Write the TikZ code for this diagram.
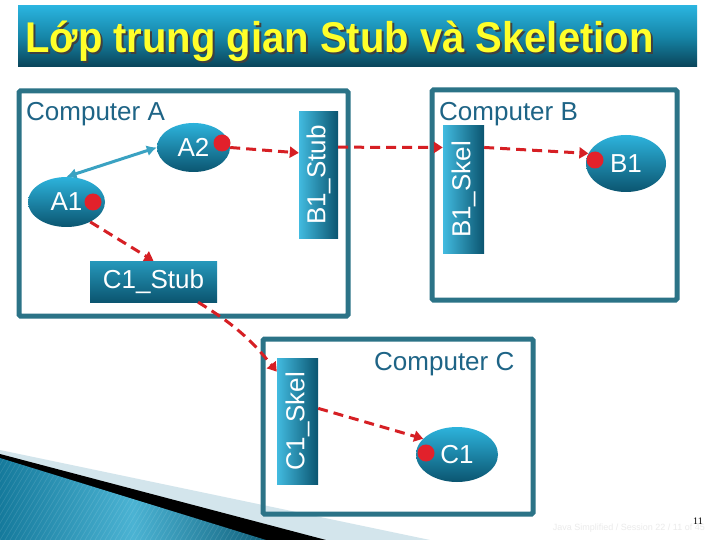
\documentclass[tikz,border=0pt]{standalone}
\usepackage{fontspec}
\setmainfont{Liberation Sans}
\newfontfamily\numfont{Liberation Serif}
\usetikzlibrary{arrows.meta,calc,shapes.geometric}
\definecolor{barTop}{HTML}{2AB4DF}
\definecolor{barMid}{HTML}{1686A8}
\definecolor{barBot}{HTML}{0A4459}
\definecolor{titleYel}{HTML}{FFFF2A}
\definecolor{boxC}{HTML}{2B7387}
\definecolor{labC}{HTML}{1E6486}
\definecolor{objTop}{HTML}{2DB3DC}
\definecolor{objBot}{HTML}{0B5570}
\definecolor{dotRed}{HTML}{E2212B}
\definecolor{arrRed}{HTML}{D61F24}
\definecolor{dblC}{HTML}{3AA2C2}
\definecolor{swDark}{HTML}{157A9C}
\definecolor{swLight}{HTML}{4BB3D3}
\definecolor{swPale}{HTML}{D3E5EC}
\tikzset{
  compbox/.style={draw=boxC, line width=5pt, rounded corners=1.5pt},
  complabel/.style={text=labC, font=\fontsize{26}{26}\selectfont, anchor=base west, inner sep=0},
  objell/.style={ellipse, inner sep=0, top color=objTop, bottom color=objBot, text=white,
    font=\fontsize{26}{26}\selectfont},
  stubbar/.style={rectangle, inner sep=0, left color=objTop!90!white, right color=objBot,
    text=white, font=\fontsize{26}{26}\selectfont},
  reddot/.style={circle, fill=dotRed, minimum size=17pt, inner sep=0},
  rpc/.style={draw=arrRed, line width=3pt, dash pattern=on 10pt off 6pt,
    -{Triangle[length=9pt,width=11pt]}},
  localcall/.style={draw=dblC, line width=3pt, {Latex[length=10pt,width=11pt]}-{Latex[length=10pt,width=11pt]}}
}
\begin{document}
\begin{tikzpicture}[x=1pt,y=-1pt]
\useasboundingbox (0,0) rectangle (720,540);
\fill[white] (0,0) rectangle (720,540);

% bottom-left swoosh
\fill[swPale] (0,450) -- (430,540) -- (0,540) -- cycle;
\fill[black] (0,454) -- (326,540) -- (0,540) -- cycle;
\shade[left color=swDark, right color=swDark!80!black, middle color=swLight]
  (0,458) -- (266,540) -- (0,540) -- cycle;
\begin{scope}
  \clip (0,458) -- (266,540) -- (0,540) -- cycle;
  \foreach \k in {0,5,...,330} {
    \draw[white, opacity=0.12, line width=0.6pt] (\k-60,540) -- (\k,440);
  }
\end{scope}

% title bar
\shade[top color=barTop, bottom color=barBot, middle color=barMid] (18,6) rectangle (697,67);
\node[anchor=base west, inner sep=0, text=black!75, font=\bfseries\fontsize{43}{43}\selectfont]
  (titleshadow) at (27,55) {\scalebox{0.93}[1]{Lớp trung gian Stub và Skeletion}};
\node[anchor=base west, inner sep=0, text=titleYel, font=\bfseries\fontsize{43}{43}\selectfont]
  (title) at (25,53) {\scalebox{0.93}[1]{Lớp trung gian Stub và Skeletion}};

% computer boxes
\draw[compbox] (19,91) rectangle (348,316);
\draw[compbox] (432,90) rectangle (677,300);
\draw[compbox] (263,339) rectangle (533,514);
\node[complabel] (labA) at (26,121) {Computer A};
\node[complabel] (labB) at (439,121) {Computer B};
\node[complabel] (labC) at (374,370) {Computer C};

% objects
\node[objell, minimum width=73pt, minimum height=49pt] (a2) at (193.5,147.5) {A2};
\node[objell, minimum width=77pt, minimum height=50pt] (a1) at (66.5,202) {A1};
\node[objell, minimum width=80pt, minimum height=57pt] (b1) at (626,163.5) {B1};
\node[objell, minimum width=82pt, minimum height=55pt] (c1) at (457,454.5) {C1};
\node[reddot] (a2dot) at (222,143) {};
\node[reddot] (a1dot) at (93,202) {};
\node[reddot] (b1dot) at (595,160) {};
\node[reddot] (c1dot) at (426,453) {};

% stubs and skeletons
\node[stubbar, minimum width=39pt, minimum height=126pt] (b1stub) at (318.5,175) {\rotatebox{90}{B1\_Stub}};
\node[stubbar, minimum width=41pt, minimum height=127pt] (b1skel) at (463.5,189.5) {\rotatebox{90}{B1\_Skel}};
\node[stubbar, minimum width=41pt, minimum height=126pt] (c1skel) at (297.5,421) {\rotatebox{90}{C1\_Skel}};
\node[stubbar, top color=objTop!85!black, bottom color=objBot, minimum width=127pt, minimum height=41pt]
  (c1stub) at (153.5,281.5) {C1\_Stub};

% connectors
\draw[localcall] (a1.north) -- (a2.west);
\draw[rpc] (a2.east) -- ($(b1stub.north west)!0.325!(b1stub.south west)$);
\draw[rpc] ($(b1stub.north east)!0.28!(b1stub.south east)$) -- ($(b1skel.north west)!0.17!(b1skel.south west)$);
\draw[rpc] ($(b1skel.north east)!0.17!(b1skel.south east)$) -- (b1.165);
\draw[rpc] (a1.-40) -- (c1stub.north);
\draw[rpc] ($(c1stub.south west)!0.85!(c1stub.south east)$) to[bend left=10] ($(c1skel.north west)!0.11!(c1skel.south west)$);
\draw[rpc] ($(c1skel.north east)!0.4!(c1skel.south east)$) -- (c1.155);

% footer
\node[anchor=base east, inner sep=0, text=black!8, font=\fontsize{9}{9}\selectfont] (footer) at (705,530)
  {Java Simplified / Session 22 / 11 of 45};
\node[anchor=base east, inner sep=0, font=\numfont\fontsize{10}{10}\selectfont] (pagenum) at (703,524) {11};
\end{tikzpicture}
\end{document}
